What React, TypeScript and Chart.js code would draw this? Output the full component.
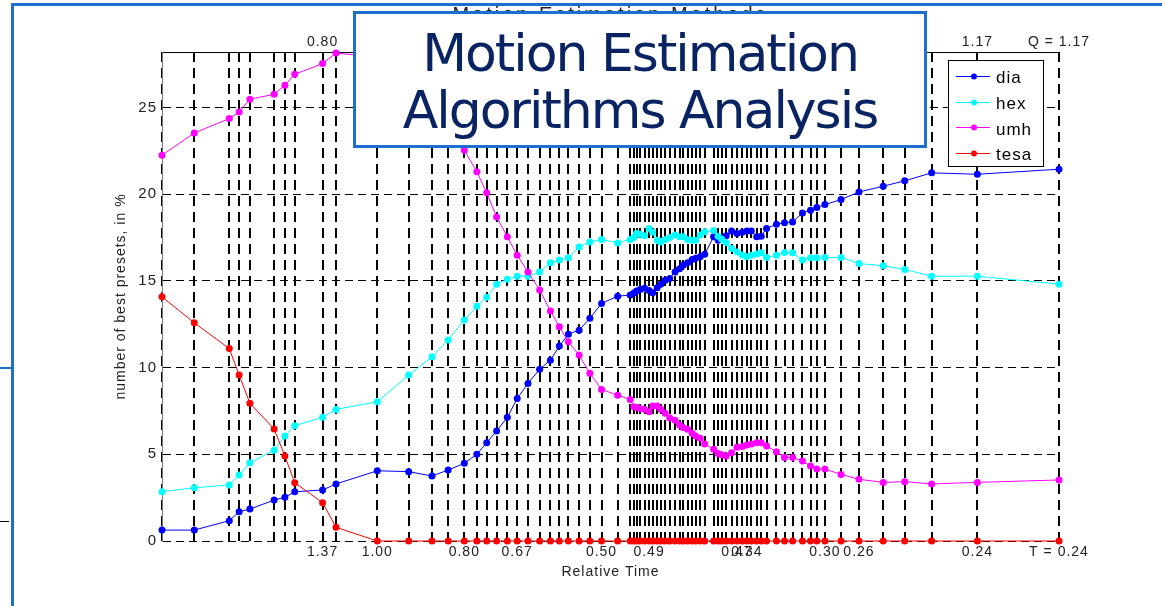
import { useEffect, useRef } from 'react';
import { Chart, registerables } from 'chart.js';

Chart.register(...registerables);

// Abscissa of every preset step along the relative-time axis (0 … 100)
const STEPS = [
  0, 3.6, 7.5, 8.6, 9.8, 12.5, 13.7, 14.8, 17.9, 19.4,
  24.0, 27.5, 30.1, 31.9, 33.7, 35.1, 36.2, 37.3, 38.5, 39.6,
  40.8, 42.1, 43.3, 44.3, 45.3, 46.5, 47.7, 49.0, 50.8, 52.2,
  52.6, 52.9, 53.3, 53.8, 54.3, 54.7, 55.2, 55.6, 56.1, 56.6,
  57.2, 57.7, 58.1, 58.6, 59.1, 59.5, 60.0, 60.5, 61.5, 62.0,
  62.4, 62.9, 63.5, 64.1, 64.7, 65.2, 65.7, 66.3, 66.8, 67.4,
  68.5, 69.4, 70.3, 71.4, 72.3, 73.0, 73.9, 75.7, 77.7, 80.4,
  82.8, 85.8, 90.9, 100,
];

// Share of best presets (%) for each search algorithm
const DIA = [
  0.63, 0.63, 1.17, 1.69, 1.84, 2.36, 2.52, 2.84, 2.94, 3.29,
  4.05, 4.0, 3.75, 4.09, 4.48, 5.0, 5.67, 6.34, 7.13, 8.22,
  9.09, 9.9, 10.43, 11.24, 11.93, 12.16, 12.84, 13.7, 14.12, 14.18,
  14.3, 14.41, 14.5, 14.57, 14.45, 14.31, 14.6, 14.81, 15.04, 15.14,
  15.52, 15.7, 15.9, 16.05, 16.24, 16.3, 16.39, 16.54, 17.54, 17.35,
  17.45, 17.6, 17.88, 17.73, 17.8, 17.88, 17.88, 17.54, 17.58, 18.02,
  18.27, 18.35, 18.4, 18.92, 19.08, 19.23, 19.4, 19.69, 20.13, 20.46,
  20.77, 21.23, 21.15, 21.44,
];
const HEX = [
  2.84, 3.07, 3.23, 3.8, 4.51, 5.24, 6.05, 6.65, 7.13, 7.59,
  8.03, 9.57, 10.62, 11.59, 12.74, 13.54, 14.05, 14.81, 15.1, 15.27,
  15.27, 15.52, 16.04, 16.2, 16.33, 16.96, 17.25, 17.39, 17.19, 17.39,
  17.5, 17.73, 17.69, 17.6, 18.02, 17.8, 17.35, 17.25, 17.39, 17.5,
  17.64, 17.54, 17.54, 17.39, 17.35, 17.35, 17.64, 17.83, 17.9, 17.58,
  17.4, 17.2, 16.87, 16.67, 16.5, 16.39, 16.48, 16.55, 16.62, 16.35,
  16.48, 16.64, 16.62, 16.2, 16.33, 16.33, 16.35, 16.35, 16.0, 15.87,
  15.66, 15.27, 15.27, 14.81,
];
const UMH = [
  22.25, 23.53, 24.36, 24.74, 25.48, 25.76, 26.28, 26.92, 27.53, 28.14,
  27.9, 27.2, 26.0, 24.6, 22.54, 21.29, 20.08, 18.69, 17.54, 16.48,
  15.52, 14.47, 13.27, 12.35, 11.49, 10.72, 9.67, 8.74, 8.41, 8.16,
  7.74, 7.7, 7.64, 7.59, 7.45, 7.78, 7.78, 7.6, 7.36, 7.1,
  6.97, 6.69, 6.55, 6.45, 6.21, 6.05, 5.92, 5.6, 5.29, 5.05,
  4.98, 4.9, 5.09, 5.4, 5.45, 5.53, 5.6, 5.67, 5.67, 5.48,
  5.15, 4.82, 4.82, 4.61, 4.32, 4.15, 4.15, 3.84, 3.56, 3.38,
  3.42, 3.29, 3.38, 3.52,
];
const TESA = [
  14.08, 12.58, 11.1, 9.57, 7.94, 6.46, 4.9, 3.36, 2.21, 0.79,
  0, 0, 0, 0, 0, 0, 0, 0, 0, 0,
  0, 0, 0, 0, 0, 0, 0, 0, 0, 0,
  0, 0, 0, 0, 0, 0, 0, 0, 0, 0,
  0, 0, 0, 0, 0, 0, 0, 0, 0, 0,
  0, 0, 0, 0, 0, 0, 0, 0, 0, 0,
  0, 0, 0, 0, 0, 0, 0, 0, 0, 0,
  0, 0, 0, 0,
];

const SERIES_NAMES = ['dia', 'hex', 'umh', 'tesa'];
const SERIES_COLORS = ['#0000ff', '#00ffff', '#ff00ff', '#ff0000'];

const Y_TICKS = [0, 5, 10, 15, 20, 25];

// Relative time labels on the bottom axis
const TIME_STEPS = [17.9, 24.0, 33.7, 39.6, 49.0, 54.3, 64.1, 65.2, 73.9, 77.7, 90.9, 100];
const TIME_LABELS = ['1.37', '1.00', '0.80', '0.67', '0.50', '0.49', '0.47', '0.34', '0.30', '0.26', '0.24', 'T = 0.24'];

// Quality labels on the top axis
const Q_STEPS = [17.9, 90.9, 100];
const Q_LABELS = ['0.80', '1.17', 'Q = 1.17'];

const FONT = "'Liberation Sans', Arial, Helvetica, sans-serif";
const SLIDE_BLUE = '#1c6fcf';

function labelAt(steps: number[], labels: string[], value: number): string {
  const i = steps.findIndex((s) => Math.abs(s - value) < 1e-6);
  return i >= 0 ? labels[i] : '';
}

export default function App() {
  const canvasRef = useRef<HTMLCanvasElement>(null);

  useEffect(() => {
    const canvas = canvasRef.current;
    if (!canvas) return;
    const values = [DIA, HEX, UMH, TESA];

    const spacing = {
      id: 'spacing',
      beforeDraw(chart: any) {
        chart.ctx.letterSpacing = '1px';
      },
    };

    const legendBox = {
      id: 'legendBox',
      afterDatasetsDraw(chart: any) {
        const ctx = chart.ctx;
        const { right, top } = chart.chartArea;
        const bx = Math.round(right - 111);
        const by = Math.round(top + 8);
        const w = 95;
        const h = 106;
        ctx.save();
        ctx.letterSpacing = '1px';
        ctx.fillStyle = '#ffffff';
        ctx.fillRect(bx, by, w, h);
        ctx.strokeStyle = '#000000';
        ctx.lineWidth = 1;
        ctx.strokeRect(bx + 0.5, by + 0.5, w, h);
        SERIES_NAMES.forEach((name, i) => {
          const base = by + 23.3 + i * 25.7;
          const ly = Math.round(base - 7.3) + 0.5;
          const color = SERIES_COLORS[i];
          ctx.strokeStyle = color;
          ctx.lineWidth = 1;
          ctx.beginPath();
          ctx.moveTo(bx + 8, ly);
          ctx.lineTo(bx + 42, ly);
          ctx.stroke();
          ctx.fillStyle = color;
          ctx.beginPath();
          ctx.arc(bx + 26, ly, 3, 0, Math.PI * 2);
          ctx.fill();
          ctx.fillStyle = '#000000';
          ctx.font = `17px ${FONT}`;
          ctx.textAlign = 'left';
          ctx.textBaseline = 'alphabetic';
          ctx.fillText(name, bx + 48, base);
        });
        ctx.restore();
      },
    };

    const chart = new Chart(canvas, {
      type: 'line',
      data: {
        datasets: SERIES_NAMES.map((name, i) => ({
          label: name,
          data: STEPS.map((x, j) => ({ x, y: values[i][j] })),
          borderColor: SERIES_COLORS[i],
          backgroundColor: SERIES_COLORS[i],
          borderWidth: 1,
          pointRadius: 3.5,
          pointHoverRadius: 3.5,
          pointBorderWidth: 0,
          tension: 0,
          clip: false,
          order: SERIES_NAMES.length - i,
        })),
      },
      options: {
        responsive: false,
        animation: false,
        devicePixelRatio: 1,
        layout: { padding: { left: 0, right: 103, top: 0, bottom: 0 } },
        plugins: {
          legend: { display: false },
          tooltip: { enabled: false },
          title: { display: false },
        },
        scales: {
          x: {
            type: 'linear',
            position: 'bottom',
            min: 0,
            max: 100,
            afterBuildTicks: (axis: any) => {
              axis.ticks = STEPS.map((v) => ({ value: v }));
            },
            afterFit: (axis: any) => {
              axis.height = 65;
            },
            grid: { color: '#000000', lineWidth: 2, drawTicks: false },
            border: { display: false, dash: [10, 6] },
            ticks: {
              autoSkip: false,
              maxRotation: 0,
              minRotation: 0,
              padding: 3,
              color: '#222222',
              font: { family: FONT, size: 14 },
              callback: (value: any) => labelAt(TIME_STEPS, TIME_LABELS, Number(value)),
            },
            title: {
              display: true,
              text: 'Relative Time',
              color: '#222222',
              font: { family: FONT, size: 14 },
              padding: { top: 0, bottom: 25 },
            },
          },
          xTop: {
            type: 'linear',
            position: 'top',
            min: 0,
            max: 100,
            afterBuildTicks: (axis: any) => {
              axis.ticks = Q_STEPS.map((v) => ({ value: v }));
            },
            afterFit: (axis: any) => {
              axis.height = 52;
            },
            grid: { display: false, drawTicks: false },
            border: { display: true, color: '#000000', width: 1 },
            ticks: {
              autoSkip: false,
              maxRotation: 0,
              minRotation: 0,
              padding: 1,
              color: '#222222',
              font: { family: FONT, size: 14 },
              callback: (value: any) => labelAt(Q_STEPS, Q_LABELS, Number(value)),
            },
          },
          y: {
            type: 'linear',
            position: 'left',
            min: 0,
            max: 28.2,
            afterBuildTicks: (axis: any) => {
              axis.ticks = Y_TICKS.map((v) => ({ value: v }));
            },
            afterFit: (axis: any) => {
              axis.width = 162;
            },
            grid: { color: '#000000', lineWidth: 1, drawTicks: false },
            border: { display: true, color: '#777777', width: 1, dash: [8, 5] },
            ticks: {
              padding: 5,
              color: '#222222',
              font: { family: FONT, size: 15 },
            },
            title: {
              display: true,
              text: 'number of best presets, in %',
              color: '#222222',
              font: { family: FONT, size: 14 },
              padding: { top: 113, bottom: 0 },
            },
          },
        },
      },
      plugins: [spacing, legendBox],
    } as any);

    return () => chart.destroy();
  }, []);

  return (
    <div
      style={{
        position: 'absolute',
        left: 0,
        top: 0,
        width: 1162,
        height: 606,
        overflow: 'hidden',
        background: '#ffffff',
      }}
    >
      <canvas
        ref={canvasRef}
        width={1162}
        height={606}
        style={{ position: 'absolute', left: 0, top: 0, width: 1162, height: 606 }}
      />
      <div
        style={{
          position: 'absolute',
          left: 162,
          top: 4,
          width: 897,
          textAlign: 'center',
          fontFamily: FONT,
          fontSize: 20,
          lineHeight: '20px',
          letterSpacing: '3px',
          color: '#222222',
          whiteSpace: 'nowrap',
        }}
      >
        Motion Estimation Methods
      </div>
      <div style={{ position: 'absolute', left: 12, top: 3, width: 1150, height: 3, background: SLIDE_BLUE }} />
      <div style={{ position: 'absolute', left: 11, top: 3, width: 3, height: 603, background: SLIDE_BLUE }} />
      <div style={{ position: 'absolute', left: 0, top: 367, width: 11, height: 2, background: SLIDE_BLUE }} />
      <div style={{ position: 'absolute', left: 0, top: 521, width: 9, height: 1, background: '#000000' }} />
      <div
        style={{
          position: 'absolute',
          left: 353,
          top: 11,
          width: 574,
          height: 137,
          boxSizing: 'border-box',
          border: `3px solid ${SLIDE_BLUE}`,
          background: '#ffffff',
          paddingTop: 11,
          textAlign: 'center',
          fontFamily: "'DejaVu Sans', Verdana, sans-serif",
          fontSize: 52,
          lineHeight: '57px',
          letterSpacing: '-2px',
          color: '#0a2463',
          whiteSpace: 'nowrap',
        }}
      >
        <div>Motion Estimation</div>
        <div>Algorithms Analysis</div>
      </div>
    </div>
  );
}
